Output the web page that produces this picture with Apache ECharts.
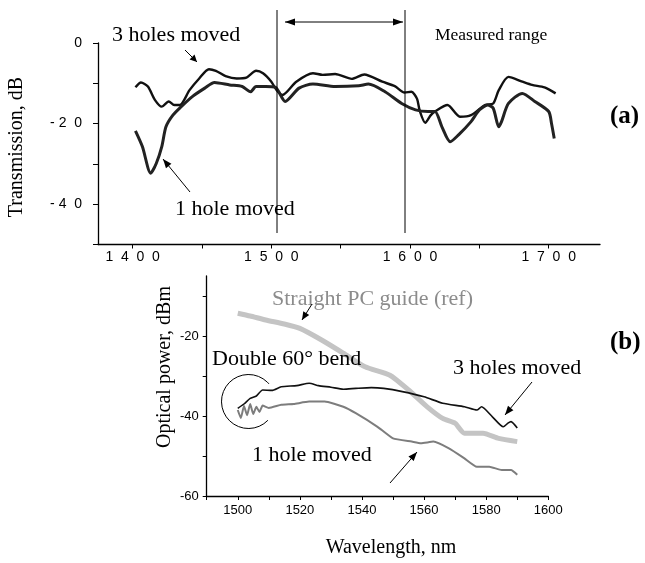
<!DOCTYPE html>
<html><head><meta charset="utf-8">
<script src="https://cdn.jsdelivr.net/npm/echarts@6/dist/echarts.min.js"></script>
<style>html,body{margin:0;padding:0;background:#fff}#c{width:645px;height:563px}</style>
</head><body><div id="c"></div>
<script>
// ---------- Panel (a): transmission ----------
const aThreeX = [1402,1406,1411,1416,1421,1426,1430,1434,1441,1448,1455,1460,1467,1475,1482,1489,1494,1500,1504,1508,1518,1530,1537,1546,1558,1567,1580,1589,1596,1601,1605,1607,1611,1615,1618,1627,1636,1644,1654,1660,1664,1671,1681,1688,1697,1705];
const aThreeY = [-11.0,-9.8,-10.8,-14.1,-15.8,-14.5,-15.4,-15.4,-11.7,-8.8,-6.5,-6.9,-8.2,-8.8,-8.6,-6.9,-7.5,-9.6,-11.8,-12.9,-9.6,-7.5,-7.9,-7.7,-8.9,-7.8,-9.6,-10.7,-12.3,-12.1,-13.8,-16.8,-19.8,-17.9,-17.0,-15.4,-18.3,-17.9,-15.4,-15.0,-11.7,-8.4,-9.6,-10.4,-11.0,-12.5];
const aOneX = [1402,1407,1413,1417,1421,1424,1429,1435,1443,1452,1459,1470,1479,1485,1489,1496,1503,1510,1520,1530,1546,1563,1570,1582,1594,1604,1613,1618,1623,1629,1635,1644,1650,1656,1660,1664,1666,1671,1681,1690,1700,1702,1704];
const aOneY = [-21.8,-25.7,-32.3,-29.9,-25.7,-20.8,-17.9,-15.8,-13.3,-11.2,-9.8,-10.4,-10.8,-12.1,-10.8,-10.8,-11.0,-14.5,-11.2,-10.2,-10.8,-10.6,-10.2,-12.1,-15.0,-16.6,-17.0,-17.0,-20.8,-24.5,-22.8,-19.5,-16.6,-15.4,-16.2,-20.8,-19.5,-15.0,-12.5,-14.5,-17.0,-19.9,-23.7];
const aTickValues = [1400,1450,1500,1550,1600,1650,1700];
const aLabelValues = [1400,1500,1600,1700];

// ---------- Panel (b): optical power ----------
const bRefX = [1500,1504,1509,1515,1520,1527,1534,1541,1549,1555,1561,1566,1570,1573,1579,1584,1590];
const bRefY = [-14.3,-15.0,-16.0,-17.0,-18.1,-21.0,-24.3,-27.7,-29.8,-33.5,-37.7,-40.6,-41.8,-44.3,-44.3,-45.6,-46.4];
const bThreeX = [1500,1502,1504,1506,1508,1511,1514,1519,1523,1526,1530,1534,1538,1543,1547,1553,1560,1566,1573,1577,1578.5,1582,1585.5,1587,1588,1590];
const bThreeY = [-38.1,-37.0,-35.6,-35.0,-33.5,-33.6,-32.7,-32.4,-31.8,-32.4,-32.8,-33.3,-33.1,-32.9,-33.1,-33.9,-35.2,-36.8,-37.7,-38.5,-37.7,-40.2,-42.7,-41.8,-41.4,-43.0];
const bOneX = [1500,1501,1502,1503,1504,1505,1506,1507,1508,1510,1514,1518,1523,1528,1534,1538,1545,1550,1556,1559,1563,1568,1573,1577,1581,1585,1588,1590];
const bOneY = [-38.5,-40.5,-37.5,-39.8,-37.0,-39.5,-37.7,-39.0,-37.4,-38.0,-37.2,-37.0,-36.4,-36.4,-37.7,-39.3,-42.7,-45.6,-46.4,-46.8,-46.4,-48.1,-50.6,-52.7,-52.7,-53.5,-53.5,-54.7];

const zip = (xs, ys) => xs.map((x, i) => [x, ys[i]]);
const SERIF = 'Liberation Serif';
const SANS = 'Liberation Sans';

function txt(s, x, y, size, opts) {
  opts = opts || {};
  return { type: 'text', x: x, y: y, rotation: opts.rot || 0, z: 10,
    style: { text: s, fill: opts.fill || '#000', textAlign: opts.align || 'left', textVerticalAlign: 'middle',
      font: (opts.bold ? 'bold ' : '') + size + 'px "' + (opts.family || SERIF) + '"' } };
}
function seg(x1, y1, x2, y2, w) {
  return { type: 'line', z: 10, shape: { x1: x1, y1: y1, x2: x2, y2: y2 }, style: { stroke: '#000', lineWidth: w || 1 } };
}
function head(x1, y1, x2, y2, len, wid) {
  const a = Math.atan2(y2 - y1, x2 - x1);
  const bx = x2 - len * Math.cos(a), by = y2 - len * Math.sin(a);
  const nx = -Math.sin(a) * wid, ny = Math.cos(a) * wid;
  return { type: 'polygon', z: 10, shape: { points: [[x2, y2], [bx + nx, by + ny], [bx - nx, by - ny]] }, style: { fill: '#000' } };
}
function arrow(x1, y1, x2, y2, len, wid) {
  len = len || 8; wid = wid || 3.5;
  return [seg(x1, y1, x2, y2, 1), head(x1, y1, x2, y2, len, wid)];
}

const graphics = [].concat(
  // measured range markers
  [seg(277, 10, 277, 233, 1), seg(405, 10, 405, 233, 1)],
  arrow(340, 22, 285, 22, 10, 3.5), arrow(340, 22, 403, 22, 10, 3.5),
  [txt('Measured range', 435, 35, 17.5)],
  [txt('3 holes moved', 112, 35, 22), txt('1 hole moved', 175, 209, 22), txt('(a)', 610, 117, 25, { bold: true })],
  arrow(185, 50, 197, 62, 7, 3.5), arrow(190, 192, 163, 159, 9, 3.5),
  [txt('Transmission, dB', 17, 147, 20, { rot: Math.PI / 2, align: 'center' })],
  // panel b
  [txt('Straight PC guide (ref)', 272, 299, 22, { fill: '#8c8c8c' }),
   txt('Double 60° bend', 212, 359, 22),
   txt('3 holes moved', 453, 368, 22),
   txt('1 hole moved', 252, 455, 22),
   txt('(b)', 610, 343, 25, { bold: true }),
   txt('Wavelength, nm', 391, 548, 20, { align: 'center' }),
   txt('Optical power, dBm', 165, 367, 20, { rot: Math.PI / 2, align: 'center' })],
  arrow(312, 304, 302, 320, 8, 3.5), arrow(532, 382, 505, 415, 9, 3.5), arrow(390, 483, 417, 452, 9, 3.5),
  [{ type: 'arc', z: 10, shape: { cx: 248.5, cy: 401.5, r: 27, startAngle: 0.77, endAngle: 5.57, clockwise: true },
     style: { stroke: '#000', lineWidth: 1, fill: null } }]
);

const axisCommon = {
  axisLine: { show: true, onZero: false, lineStyle: { color: '#000', width: 1.3 } },
  splitLine: { show: false },
};

const option = {
  animation: false,
  backgroundColor: '#fff',
  grid: [
    { left: 98, top: 43, width: 502, height: 201.5 },
    { left: 206.7, top: 276, width: 341.6, height: 220 }
  ],
  xAxis: [
    Object.assign({ type: 'value', gridIndex: 0, min: 1375, max: 1737,
      axisTick: { show: true, customValues: aTickValues, length: 4, lineStyle: { color: '#000' } },
      axisLabel: { customValues: aLabelValues, formatter: v => String(v).split('').join('  '),
        fontFamily: SANS, fontSize: 14, color: '#000', margin: 6 } }, axisCommon),
    Object.assign({ type: 'value', gridIndex: 1, min: 1490, max: 1600, interval: 10,
      axisTick: { show: true, length: 4, lineStyle: { color: '#000' } },
      axisLabel: { formatter: v => (v % 20 === 0 ? String(v) : ''), fontFamily: SANS, fontSize: 13, color: '#000', margin: 8,
        showMinLabel: true, showMaxLabel: true } }, axisCommon)
  ],
  yAxis: [
    Object.assign({ type: 'value', gridIndex: 0, min: -50, max: 0, interval: 10,
      axisTick: { show: true, length: 5, lineStyle: { color: '#000' } },
      axisLabel: { formatter: v => ({ '0': '0', '-20': '- 2  0', '-40': '- 4  0' }[String(v)] || ''),
        fontFamily: SANS, fontSize: 14, color: '#000', margin: 16 } }, axisCommon),
    Object.assign({ type: 'value', gridIndex: 1, min: -60, max: -5, interval: 10,
      axisTick: { show: true, length: 4, lineStyle: { color: '#000' } },
      axisLabel: { formatter: v => ([-20, -40, -60].indexOf(v) >= 0 ? String(v) : ''),
        fontFamily: SANS, fontSize: 13, color: '#000', margin: 8, showMaxLabel: false } }, axisCommon)
  ],
  series: [
    { name: '3 holes moved (a)', type: 'line', xAxisIndex: 0, yAxisIndex: 0, data: zip(aThreeX, aThreeY),
      showSymbol: false, smooth: 0.25, lineStyle: { color: '#111', width: 2.4 } },
    { name: '1 hole moved (a)', type: 'line', xAxisIndex: 0, yAxisIndex: 0, data: zip(aOneX, aOneY),
      showSymbol: false, smooth: 0.25, lineStyle: { color: '#222', width: 3 } },
    { name: 'Straight PC guide (ref)', type: 'line', xAxisIndex: 1, yAxisIndex: 1, data: zip(bRefX, bRefY),
      showSymbol: false, smooth: 0.2, lineStyle: { color: '#c4c4c4', width: 5 } },
    { name: '1 hole moved (b)', type: 'line', xAxisIndex: 1, yAxisIndex: 1, data: zip(bOneX, bOneY),
      showSymbol: false, smooth: 0.15, lineStyle: { color: '#7d7d7d', width: 2 } },
    { name: '3 holes moved (b)', type: 'line', xAxisIndex: 1, yAxisIndex: 1, data: zip(bThreeX, bThreeY),
      showSymbol: false, smooth: 0.2, lineStyle: { color: '#111', width: 1.6 } }
  ],
  graphic: graphics
};
const chart = echarts.init(document.getElementById('c'), null, { renderer: 'canvas' });
chart.setOption(option);
</script></body></html>
